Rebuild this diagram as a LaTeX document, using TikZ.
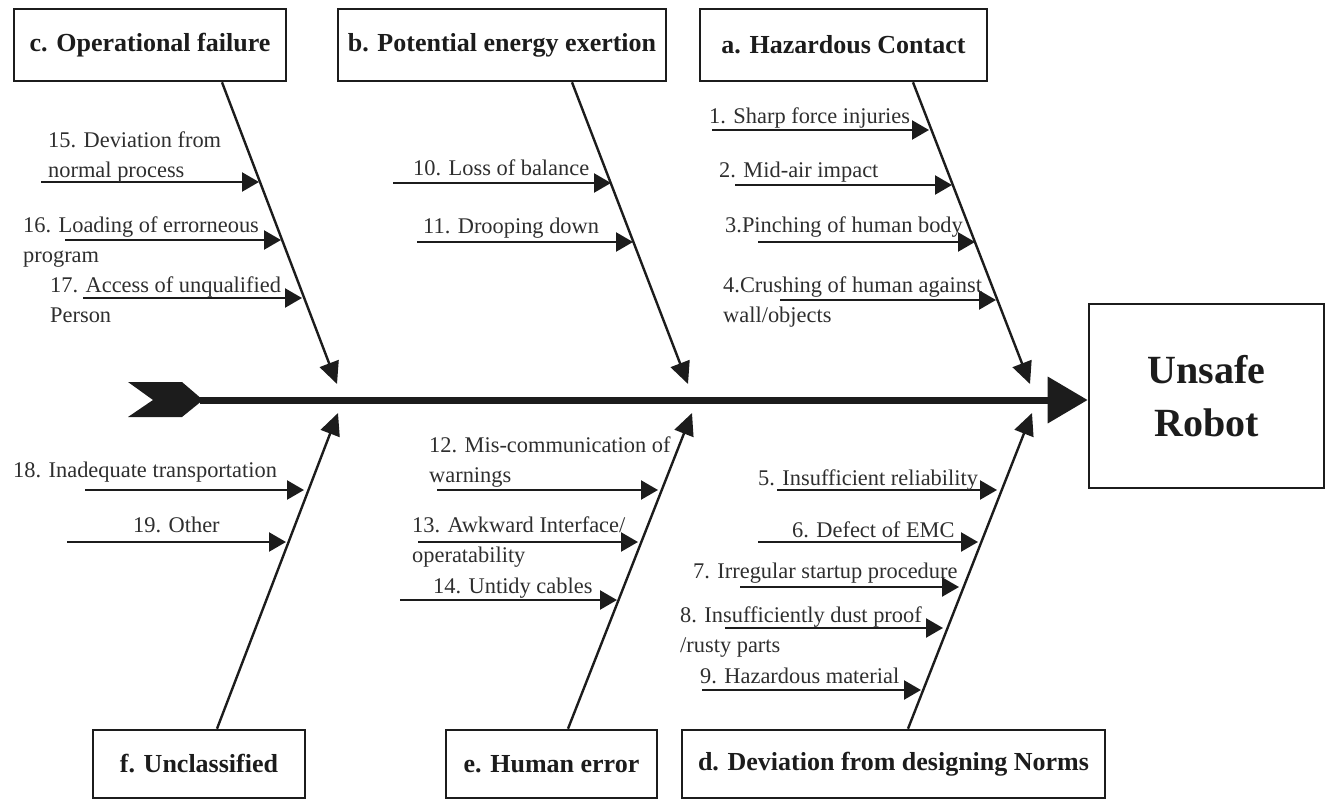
\documentclass[tikz,border=0pt]{standalone}
\usepackage{fontspec}
\setmainfont{Liberation Serif}
\usetikzlibrary{arrows.meta}
\definecolor{ink}{HTML}{1C1C1C}
\definecolor{txt}{HTML}{2E2E2E}
\begin{document}
\begin{tikzpicture}[x=1pt,y=-1pt,
  catbox/.style={draw=ink, line width=2.6pt, inner sep=0pt, text=ink,
    font=\fontsize{26}{30}\selectfont\bfseries},
  lbl/.style={inner sep=0pt, anchor=base west, align=left, text=txt,
    font=\fontsize{22.4}{29.5}\selectfont},
  bone/.style={draw=ink, line width=2.4pt, -{Triangle[length=22pt,width=20pt]}},
  cause/.style={draw=ink, line width=2.4pt, -{Triangle[length=17pt,width=19pt]}},
  spine/.style={draw=ink, line width=7pt, -{Triangle[length=40pt,width=45pt]}}
]
\useasboundingbox (0,0) rectangle (1331,800);

% ---- category boxes ----
\node[catbox, minimum width=272pt, minimum height=72pt] (cbox) at (150,45) {c. Operational failure};
\node[catbox, minimum width=328pt, minimum height=72pt] (bbox) at (502,45) {b. Potential energy exertion};
\node[catbox, minimum width=287pt, minimum height=72pt] (abox) at (843.5,45) {a. Hazardous Contact};
\node[catbox, minimum width=212pt, minimum height=68pt] (fbox) at (199,764) {f. Unclassified};
\node[catbox, minimum width=211pt, minimum height=68pt] (ebox) at (551.5,764) {e. Human error};
\node[catbox, minimum width=423pt, minimum height=68pt] (dbox) at (893.5,764) {d. Deviation from designing Norms};

% ---- effect box ----
\node[draw=ink, line width=2.6pt, minimum width=235pt, minimum height=184pt, inner sep=0pt,
  align=center, text=ink, font=\fontsize{40}{53}\selectfont\bfseries] (robot) at (1206.5,396) {Unsafe\\Robot};

% ---- spine with chevron tail ----
\fill[ink] (128,382) -- (182,382) -- (203,400) -- (182,417) -- (128,417) -- (153,400) -- cycle;
\coordinate (tail) at (200,400);
\draw[spine] (tail) -- (robot.west |- tail);

% ---- bone end points ----
\coordinate (cS) at ([xshift=72pt]cbox.south);
\coordinate (bS) at ([xshift=70pt]bbox.south);
\coordinate (aS) at ([xshift=69.5pt]abox.south);
\coordinate (fS) at ([xshift=18pt]fbox.north);
\coordinate (eS) at ([xshift=16.5pt]ebox.north);
\coordinate (dS) at ([xshift=14.5pt]dbox.north);
\coordinate (cT) at (337,384);
\coordinate (bT) at (688,384);
\coordinate (aT) at (1030,384);
\coordinate (fT) at (338,413);
\coordinate (eT) at (692,413);
\coordinate (dT) at (1032,413);

\draw[bone] (cS) -- (cT);
\draw[bone] (bS) -- (bT);
\draw[bone] (aS) -- (aT);
\draw[bone] (fS) -- (fT);
\draw[bone] (eS) -- (eT);
\draw[bone] (dS) -- (dT);

% ---- c. Operational failure ----
% (two-line labels are anchored at the baseline of their last line)
\coordinate (s15) at (41,182);  \coordinate (e15) at (259,182);
\coordinate (s16) at (65,240);  \coordinate (e16) at (281,240);
\coordinate (s17) at (83,298);  \coordinate (e17) at (302,298);
\draw[cause] (s15) -- (e15);
\draw[cause] (s16) -- (e16);
\draw[cause] (s17) -- (e17);
\node[lbl] (t15) at (48,177) {15. Deviation from\\normal process};
\node[lbl] (t16) at (23,262) {16. Loading of errorneous\\program};
\node[lbl] (t17) at (50,322) {17. Access of unqualified\\Person};

% ---- b. Potential energy exertion ----
\coordinate (s10) at (393,183); \coordinate (e10) at (611,183);
\coordinate (s11) at (417,242); \coordinate (e11) at (633,242);
\draw[cause] (s10) -- (e10);
\draw[cause] (s11) -- (e11);
\node[lbl] (t10) at (413,175) {10. Loss of balance};
\node[lbl] (t11) at (423,233) {11. Drooping down};

% ---- a. Hazardous Contact ----
\coordinate (s1) at (712,130);  \coordinate (e1) at (929,130);
\coordinate (s2) at (735,185);  \coordinate (e2) at (952,185);
\coordinate (s3) at (758,242);  \coordinate (e3) at (975,242);
\coordinate (s4) at (780,300);  \coordinate (e4) at (996,300);
\draw[cause] (s1) -- (e1);
\draw[cause] (s2) -- (e2);
\draw[cause] (s3) -- (e3);
\draw[cause] (s4) -- (e4);
\node[lbl] (t1) at (709,123) {1. Sharp force injuries};
\node[lbl] (t2) at (719,177) {2. Mid-air impact};
\node[lbl] (t3) at (725,232) {3.Pinching of human body};
\node[lbl] (t4) at (723,322) {4.Crushing of human against\\wall/objects};

% ---- f. Unclassified ----
\coordinate (s18) at (85,490);  \coordinate (e18) at (304,490);
\coordinate (s19) at (67,542);  \coordinate (e19) at (286,542);
\draw[cause] (s18) -- (e18);
\draw[cause] (s19) -- (e19);
\node[lbl] (t18) at (13,477) {18. Inadequate transportation};
\node[lbl] (t19) at (133,532) {19. Other};

% ---- e. Human error ----
\coordinate (s12) at (437,490); \coordinate (e12) at (658,490);
\coordinate (s13) at (418,542); \coordinate (e13) at (638,542);
\coordinate (s14) at (400,600); \coordinate (e14) at (617,600);
\draw[cause] (s12) -- (e12);
\draw[cause] (s13) -- (e13);
\draw[cause] (s14) -- (e14);
\node[lbl] (t12) at (429,482) {12. Mis-communication of\\warnings};
\node[lbl] (t13) at (412,562) {13. Awkward Interface/\\operatability};
\node[lbl] (t14) at (433,593) {14. Untidy cables};

% ---- d. Deviation from designing Norms ----
\coordinate (s5) at (777,490);  \coordinate (e5) at (997,490);
\coordinate (s6) at (758,542);  \coordinate (e6) at (978,542);
\coordinate (s7) at (740,587);  \coordinate (e7) at (959,587);
\coordinate (s8) at (725,628);  \coordinate (e8) at (943,628);
\coordinate (s9) at (702,690);  \coordinate (e9) at (921,690);
\draw[cause] (s5) -- (e5);
\draw[cause] (s6) -- (e6);
\draw[cause] (s7) -- (e7);
\draw[cause] (s8) -- (e8);
\draw[cause] (s9) -- (e9);
\node[lbl] (t5) at (758,485) {5. Insufficient reliability};
\node[lbl] (t6) at (792,537) {6. Defect of EMC};
\node[lbl] (t7) at (693,578) {7. Irregular startup procedure};
\node[lbl] (t8) at (680,652) {8. Insufficiently dust proof\\/rusty parts};
\node[lbl] (t9) at (700,683) {9. Hazardous material};
\end{tikzpicture}
\end{document}
